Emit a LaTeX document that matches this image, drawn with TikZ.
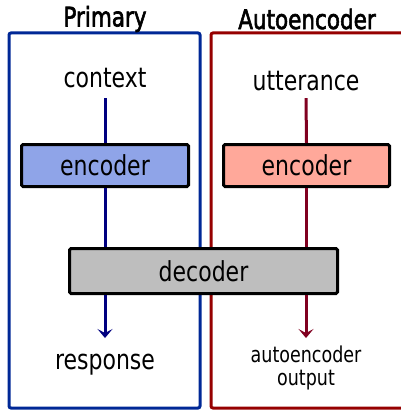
\documentclass[tikz,border=0pt]{standalone}
\usepackage{fontspec}
\setmainfont{DejaVu Sans}
\newfontfamily\titlefont[FakeBold=2.5]{DejaVu Sans}
\usepackage{graphicx}
\usetikzlibrary{arrows.meta,positioning,calc}
\definecolor{primblue}{RGB}{0,40,150}
\definecolor{autored}{RGB}{150,0,0}
\definecolor{lineblue}{RGB}{0,0,128}
\definecolor{linered}{RGB}{128,0,32}
\definecolor{encblue}{RGB}{143,164,232}
\definecolor{encred}{RGB}{255,168,154}
\definecolor{decgray}{RGB}{190,190,190}
\newcommand{\tall}[1]{\scalebox{1}[1.25]{#1}}
\tikzset{
  frame/.style={line width=3pt,rounded corners=2pt},
  box/.style={draw=black,line width=3pt,rounded corners=1.5pt,inner sep=0pt,font=\fontsize{22}{26}\selectfont},
  lbl/.style={inner sep=0pt,font=\fontsize{22}{26}\selectfont},
  title/.style={inner sep=0pt,font=\titlefont\fontsize{21.5}{24}\selectfont},
  flow/.style={line width=3pt},
  tip/.style={-{Stealth[length=9pt,width=15pt,inset=4pt]}}
}

\begin{document}
\begin{tikzpicture}[x=1pt,y=-1pt]
  \useasboundingbox (0,0) rectangle (400,412);
  % the two columns
  \draw[frame,color=primblue] (9,33) rectangle (200,408);
  \draw[frame,color=autored] (211,33) rectangle (404,408);
  \node[title] (primary) at (105,19) {\tall{Primary}};
  \node[title] (auto) at (307,19) {\tall{Autoencoder}};
  % inputs and boxes
  \node[lbl] (ctx) at (105,78) {\tall{context}};
  \node[lbl] (utt) at (306,81) {\tall{utterance}};
  \node[box,fill=encblue,minimum width=167pt,minimum height=42pt] (encL) at (105,165.5) {\tall{encoder}};
  \node[box,fill=encred,minimum width=166pt,minimum height=42pt] (encR) at (306.5,165.5) {\tall{encoder}};
  \node[box,fill=decgray,minimum width=268pt,minimum height=45pt] (dec) at (203.5,271) {\tall{decoder}};
  \node[lbl] (resp) at (105,365) {\tall{response}};
  \node[lbl,font=\fontsize{17.5}{18.4}\selectfont] (aeout) at (306,369)
    {\tall{\begin{tabular}{@{}c@{}}autoencoder\\output\end{tabular}}};
  \coordinate (tipL) at (105,338);
  \coordinate (tipR) at (306,338);
  % connectors
  \draw[flow,color=lineblue] (ctx.south) ++(0,10) -- (encL.north);
  \draw[flow,color=linered] (utt.south) ++(0,7) -- (encR.north);
  \draw[flow,color=lineblue] (encL.south) -- (encL.south |- dec.north);
  \draw[flow,color=linered] (encR.south) -- (encR.south |- dec.north);
  \draw[flow,tip,color=lineblue] (tipL |- dec.south) -- (tipL);
  \draw[flow,tip,color=linered] (tipR |- dec.south) -- (tipR);
\end{tikzpicture}
\end{document}
